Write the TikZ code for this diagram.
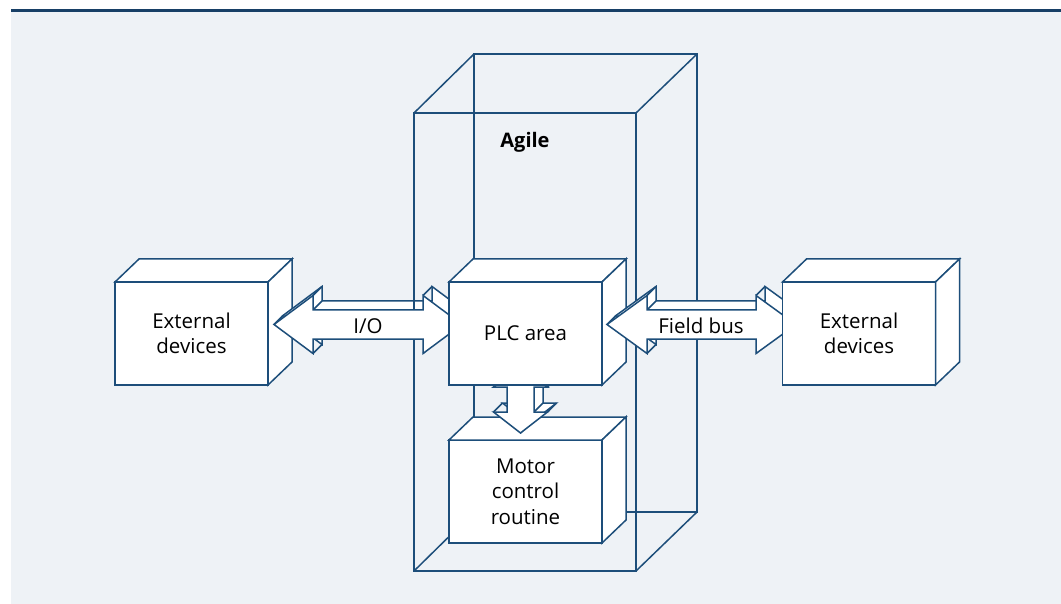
\documentclass[tikz,border=0pt]{standalone}
\usepackage{fontspec}
\setmainfont{Open Sans}
\definecolor{navy}{HTML}{1D4E7A}
\definecolor{bgc}{HTML}{EEF2F6}
\definecolor{bandc}{HTML}{173F66}
\tikzset{
  face/.style={draw=navy, fill=white, line width=1.5pt, line join=miter},
  wire/.style={draw=navy, line width=1.5pt},
  linkline/.style={draw=navy, line width=1.5pt},
  box/.style={draw=navy, fill=white, line width=1.5pt, align=center, inner sep=0pt, outer sep=0pt,
    minimum width=153pt, minimum height=103pt},
  lbl/.style={inner sep=0pt, outer sep=0pt}
}
\newcommand\HArrowBody[6]{%
  \path[#1] (#2,#6) -- (#3,#6-29) -- (#3,#6-14.5) -- (#4,#6-14.5) -- (#4,#6-29) -- (#5,#6)
    -- (#4,#6+29) -- (#4,#6+14.5) -- (#3,#6+14.5) -- (#3,#6+29) -- cycle;}
\newcommand\HArrowLinks[5]{%
  \foreach \px/\py in {#1/#5, #2/#5-29, #2/#5-14.5, #3/#5-14.5, #3/#5-29, #4/#5, #3/#5+29, #3/#5+14.5, #2/#5+14.5, #2/#5+29}
    {\draw[linkline] (\px,\py) -- ++(9,-9);}}
\newcommand\VArrowBody[6]{%
  \path[#1] (#2,#3) -- (#2+27,#4) -- (#2+13.5,#4) -- (#2+13.5,#5) -- (#2+27,#5) -- (#2,#6)
    -- (#2-27,#5) -- (#2-13.5,#5) -- (#2-13.5,#4) -- (#2-27,#4) -- cycle;}
\newcommand\VArrowLinks[5]{%
  \foreach \px/\py in {#1/#2, #1+27/#3, #1+13.5/#3, #1+13.5/#4, #1+27/#4, #1/#5, #1-27/#4, #1-13.5/#4, #1-13.5/#3, #1-27/#3}
    {\draw[linkline] (\px,\py) -- ++(9,-9);}}
\newcommand\BoxFaces[1]{%
  \draw[face] (#1.north west) -- ++(24,-23) -- ([shift={(24,-23)}]#1.north east) -- (#1.north east) -- cycle;
  \draw[face] (#1.north east) -- ++(24,-23) -- ([shift={(24,-23)}]#1.south east) -- (#1.south east) -- cycle;}
\begin{document}
\begin{tikzpicture}[x=1pt,y=-1pt, font=\fontsize{20.5}{25.5}\selectfont]
\useasboundingbox (0,0) rectangle (1061,604);
\fill[bgc] (11,12) rectangle (1061,604);
\fill[bandc] (11,9) rectangle (1061,12.5);
% left external devices
\node[box] (extL) at (191.5,333.5) {External\\devices};
\BoxFaces{extL}
% I/O arrow, back part
\HArrowBody{face, shift={(9,-9)}}{274}{313}{423}{462}{324.5}
\HArrowLinks{274}{313}{423}{462}{324.5}
% Agile wireframe
\coordinate (f1) at (414,113); \coordinate (f2) at (636,113);
\coordinate (f3) at (636,571); \coordinate (f4) at (414,571);
\coordinate (b1) at (474,54); \coordinate (b2) at (697,54);
\coordinate (b3) at (697,512); \coordinate (b4) at (474,512);
\draw[wire] (b1) -- (b2) -- (b3) -- (b4) -- cycle;
\draw[wire] (f1) -- (b1) (f2) -- (b2) (f3) -- (b3) (f4) -- (b4);
\draw[wire] (f1) -- (f2) -- (f3) -- (f4) -- cycle;
\node[lbl, anchor=base, font=\fontsize{20}{25}\selectfont\bfseries] (agile) at (525,148) {Agile};
% I/O arrow, front
\HArrowBody{face}{274}{313}{423}{462}{324.5}
\node[lbl] (io) at (368,326) {I/O};
% motor control routine
\node[box] (motor) at (525.5,491.5) {Motor\\control\\routine};
\BoxFaces{motor}
% down arrow
\VArrowBody{face, shift={(9,-9)}}{520.5}{366}{387}{412}{433}
\VArrowLinks{520.5}{366}{387}{412}{433}
\VArrowBody{face}{520.5}{366}{387}{412}{433}
% PLC area
\node[box] (plc) at (525.5,333.5) {PLC area};
\BoxFaces{plc}
% field bus arrow
\HArrowBody{face, shift={(9,-9)}}{607}{647}{756}{796}{324.5}
\HArrowLinks{607}{647}{756}{796}{324.5}
\HArrowBody{face}{607}{647}{756}{796}{324.5}
\node[lbl] (fb) at (701,326) {Field bus};
% right external devices
\node[box] (extR) at (859,333.5) {External\\devices};
\BoxFaces{extR}
\end{tikzpicture}
\end{document}
